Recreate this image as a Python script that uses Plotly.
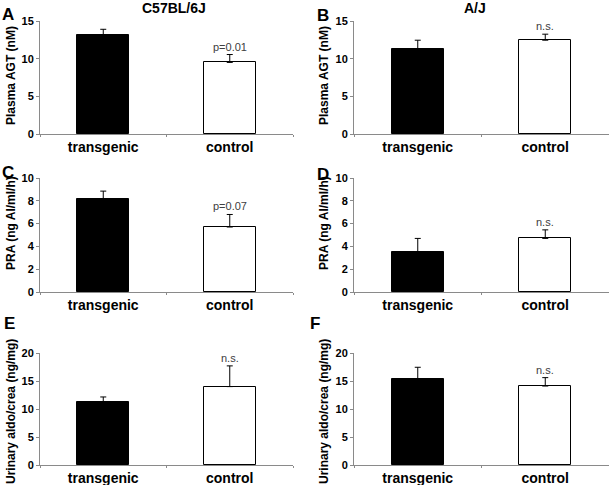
import plotly.graph_objects as go

categories = ["transgenic", "control"]

# Panel values (mean) and upper error (SEM)
agt_c57_mean = [13.2, 9.5]
agt_c57_err = [0.7, 1.05]
agt_aj_mean = [11.3, 12.45]
agt_aj_err = [1.15, 0.8]
pra_c57_mean = [8.15, 5.7]
pra_c57_err = [0.7, 1.1]
pra_aj_mean = [3.55, 4.7]
pra_aj_err = [1.15, 0.75]
aldo_c57_mean = [11.2, 14.0]
aldo_c57_err = [0.95, 3.7]
aldo_aj_mean = [15.4, 14.1]
aldo_aj_err = [2.05, 1.5]

sig_labels = ["p=0.01", "n.s.", "p=0.07", "n.s.", "n.s.", "n.s."]
panel_letters = ["A", "B", "C", "D", "E", "F"]
y_titles = ["Plasma AGT (nM)", "Plasma AGT (nM)", "PRA (ng AI/ml/h)", "PRA (ng AI/ml/h)",
            "Urinary aldo/crea (ng/mg)", "Urinary aldo/crea (ng/mg)"]
y_max = [15, 15, 10, 10, 20, 20]
y_dtick = [5, 5, 2, 2, 5, 5]
column_titles = ["C57BL/6J", "A/J"]

W, H = 609, 485
FONT = "Arial, Liberation Sans, sans-serif"

means = [agt_c57_mean, agt_aj_mean, pra_c57_mean, pra_aj_mean, aldo_c57_mean, aldo_aj_mean]
errs = [agt_c57_err, agt_aj_err, pra_c57_err, pra_aj_err, aldo_c57_err, aldo_aj_err]

# pixel layout
col_x = [(40, 293), (354, 609)]
row_y = [(21, 134), (178, 292), (353, 465)]
letter_pos = [(8, 14), (323, 15), (8, 172), (323, 174), (9, 323), (315, 323)]
ylab_x = [11, 324]
ylab_yc = [76, 76, 223, 223, 412, 412]

def px_x(x):
    return x / W

def px_y(y):
    return 1 - y / H

fig = go.Figure()
annotations = []
for i in range(6):
    r, c = divmod(i, 2)
    n = i + 1
    xa = "x" if n == 1 else f"x{n}"
    ya = "y" if n == 1 else f"y{n}"
    fig.add_trace(go.Bar(
        x=categories, y=means[i], xaxis=xa, yaxis=ya,
        width=0.41,
        marker=dict(color=["black", "white"], line=dict(color="black", width=1)),
        error_y=dict(type="data", symmetric=False, array=errs[i], arrayminus=[0, 0],
                     color="black", thickness=1, width=3),
        showlegend=False, hoverinfo="skip",
    ))
    x0, x1 = col_x[c]
    y0, y1 = row_y[r]
    xkey = "xaxis" if n == 1 else f"xaxis{n}"
    ykey = "yaxis" if n == 1 else f"yaxis{n}"
    fig.update_layout(**{
        xkey: dict(domain=[px_x(x0), min(px_x(x1), 1.0)], anchor=ya,
                   showline=True, linecolor="#8a8a8a", linewidth=1,
                   ticks="outside", tickson="boundaries", ticklen=2, tickcolor="#8a8a8a",
                   showgrid=False, zeroline=False, automargin=False,
                   tickfont=dict(family=FONT, size=14, color="black", weight="bold"),
                   range=[-0.5, 1.5], fixedrange=True),
        ykey: dict(domain=[px_y(y1), px_y(y0)], anchor=xa,
                   range=[0, y_max[i]], dtick=y_dtick[i],
                   showline=True, linecolor="#8a8a8a", linewidth=1,
                   ticks="outside", ticklen=3, tickcolor="#8a8a8a",
                   showgrid=False, zeroline=False, automargin=False,
                   tickfont=dict(family=FONT, size=11, color="black", weight="bold"),
                   fixedrange=True),
    })
    # significance label
    annotations.append(dict(
        x="control", y=means[i][1] + errs[i][1], xref=xa, yref=ya,
        text=sig_labels[i], showarrow=False, yanchor="bottom", yshift=0,
        font=dict(family=FONT, size=11, color="#404040"),
    ))
    # panel letter
    lx, ly = letter_pos[i]
    annotations.append(dict(
        x=px_x(lx), y=px_y(ly), xref="paper", yref="paper", text=panel_letters[i],
        showarrow=False, xanchor="center", yanchor="middle",
        font=dict(family=FONT, size=17, color="black", weight="bold"),
    ))
    # y title
    annotations.append(dict(
        x=px_x(ylab_x[c]), y=px_y(ylab_yc[i]), xref="paper", yref="paper",
        text=y_titles[i], textangle=-90, showarrow=False,
        xanchor="center", yanchor="middle",
        font=dict(family=FONT, size=12, color="black", weight="bold"),
    ))

for c, t in enumerate(column_titles):
    annotations.append(dict(
        x=px_x([174, 475][c]), y=px_y(8), xref="paper", yref="paper", text=t,
        showarrow=False, xanchor="center", yanchor="middle",
        font=dict(family=FONT, size=14, color="black", weight="bold"),
    ))

fig.update_layout(
    width=W, height=H, margin=dict(l=0, r=0, t=0, b=0, autoexpand=False),
    paper_bgcolor="white", plot_bgcolor="white",
    annotations=annotations, bargap=0,
)

fig.write_html("out.html", config={"displayModeBar": False},
               post_script="document.body.style.margin='0';document.body.style.overflow='hidden';")
